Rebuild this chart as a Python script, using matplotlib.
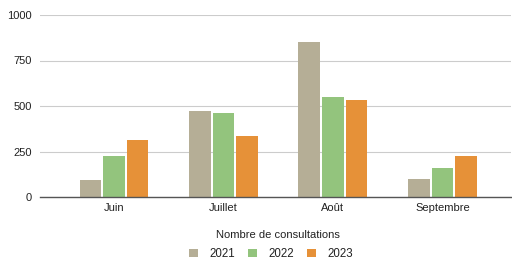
import matplotlib
matplotlib.use('Agg')
import matplotlib.pyplot as plt
import numpy as np
from matplotlib.patches import Patch

plt.rcParams['font.family'] = ['Liberation Sans', 'DejaVu Sans']

months = ['Juin', 'Juillet', 'Août', 'Septembre']
years = ['2021', '2022', '2023']
v2021 = [93, 474, 853, 97]
v2022 = [225, 460, 548, 161]
v2023 = [315, 335, 533, 224]
yticks = [0, 250, 500, 750, 1000]

colors = ['#B5AE96', '#93C47D', '#E69138']
text_color = '#222222'

fig = plt.figure(figsize=(5.12, 2.6), dpi=100)
ax = fig.add_axes([40 / 512, 63 / 260, 471 / 512, 182 / 260])

x = np.arange(len(months))
width = 0.2
step = 0.215
for i, (vals, c) in enumerate(zip([v2021, v2022, v2023], colors)):
    ax.bar(x + (i - 1) * step, vals, width, color=c, zorder=3)

ax.set_xlim(-0.676, 3.626)
ax.set_ylim(0, 1000)
ax.set_yticks(yticks)
ax.set_yticklabels([str(t) for t in yticks])
ax.set_xticks(x)
ax.set_xticklabels(months)
ax.tick_params(axis='both', length=0, labelsize=8, labelcolor=text_color)
ax.tick_params(axis='y', pad=6)
ax.tick_params(axis='x', pad=4)
ax.grid(axis='y', color='#cccccc', linewidth=0.8, zorder=0)
for s in ['top', 'right', 'left']:
    ax.spines[s].set_visible(False)
ax.spines['bottom'].set_color('#555555')
ax.spines['bottom'].set_linewidth(1.0)
ax.spines['bottom'].set_zorder(4)

fig.text(278 / 512, 1 - 235 / 260, 'Nombre de consultations', ha='center',
         va='center', fontsize=8, color=text_color)

handles = [Patch(facecolor=c, edgecolor='none') for c in colors]
fig.legend(handles, years, loc='center', bbox_to_anchor=(271 / 512, 1 - 254 / 260),
           ncol=3, frameon=False, fontsize=8.3, handlelength=0.8, handleheight=0.8,
           handletextpad=1.0, columnspacing=1.1, labelcolor=text_color)

fig.savefig('out.png', dpi=100, facecolor='white')
